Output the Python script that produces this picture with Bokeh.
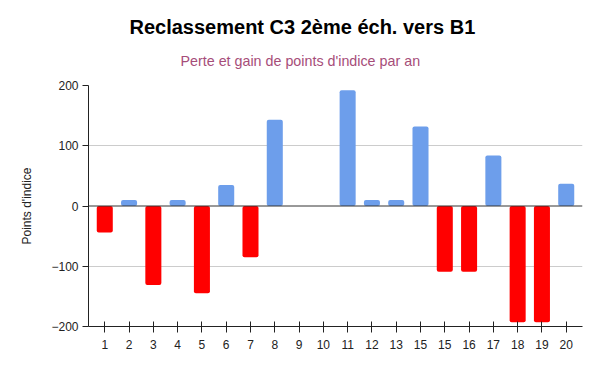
from bokeh.plotting import figure
from bokeh.models import ColumnDataSource, Range1d, FixedTicker, Span, Title
from bokeh.embed import file_html
from bokeh.resources import INLINE

# Data
positions = list(range(1, 21))
tick_labels = ["1", "2", "3", "4", "5", "6", "7", "8", "9", "10",
               "11", "12", "13", "15", "15", "16", "17", "18", "19", "20"]
values = [-44, 10, -131, 10, -145, 35, -85, 143, 0, 0,
          192, 10, 10, 132, -109, -109, 84, -193, -193, 37]
y_ticks = [-200, -100, 0, 100, 200]

BLUE = "#6d9eeb"
RED = "#ff0000"
FONT = "Liberation Sans"

colors = [BLUE if v >= 0 else RED for v in values]
source = ColumnDataSource(dict(x=positions, top=values, color=colors))

p = figure(width=584, height=355, output_backend="svg", toolbar_location=None,
           x_range=Range1d(0.33, 20.67), y_range=Range1d(-200, 200),
           min_border_left=88, min_border_right=2, min_border_top=85,
           min_border_bottom=29, title_location=None)
p.outline_line_color = None
p.background_fill_color = "white"

p.vbar(x="x", top="top", bottom=0, width=0.66, fill_color="color",
       line_color=None, source=source, border_radius=2)

p.add_layout(Span(location=0, dimension="width", line_color="#333333", line_width=1))

# axes
p.xaxis.ticker = FixedTicker(ticks=positions)
p.xaxis.major_label_overrides = {pos: lab for pos, lab in zip(positions, tick_labels)}
p.xaxis.major_tick_in = 5
p.xaxis.major_tick_out = 6
p.xaxis.minor_tick_line_color = None
p.xaxis.major_label_standoff = 7
p.xaxis.axis_line_color = "#222222"
p.xaxis.major_tick_line_color = "#222222"

p.yaxis.ticker = FixedTicker(ticks=y_ticks)
p.yaxis.major_tick_in = 0
p.yaxis.major_tick_out = 6
p.yaxis.minor_tick_line_color = None
p.yaxis.major_label_standoff = 4
p.yaxis.axis_line_color = "#222222"
p.yaxis.major_tick_line_color = "#222222"
p.yaxis.axis_label = "Points d'indice"
p.yaxis.axis_label_text_font_style = "normal"
p.yaxis.axis_label_text_font_size = "12px"
p.yaxis.axis_label_text_font = FONT
p.yaxis.axis_label_text_color = "#222222"
p.yaxis.axis_label_standoff = 14

for ax in (p.xaxis, p.yaxis):
    ax.major_label_text_font = FONT
    ax.major_label_text_font_size = "12px"
    ax.major_label_text_color = "#222222"

p.xgrid.grid_line_color = None
p.ygrid.grid_line_color = "#cccccc"
p.ygrid.ticker = FixedTicker(ticks=[100, 200, -100])

# title & subtitle (first added = closest to the frame), centred on the page
p.add_layout(Title(text="Perte et gain de points d'indice par an", align="left",
                   text_font=FONT, text_font_size="14.3px", text_font_style="normal",
                   text_color="#a64d79", standoff=34, offset=92), "above")
p.add_layout(Title(text="Reclassement C3 2ème éch. vers B1", align="left",
                   text_font=FONT, text_font_size="20px", text_font_style="bold",
                   text_color="#000000", standoff=-8, offset=41), "above")

open("out.html", "w").write(file_html(p, INLINE))
